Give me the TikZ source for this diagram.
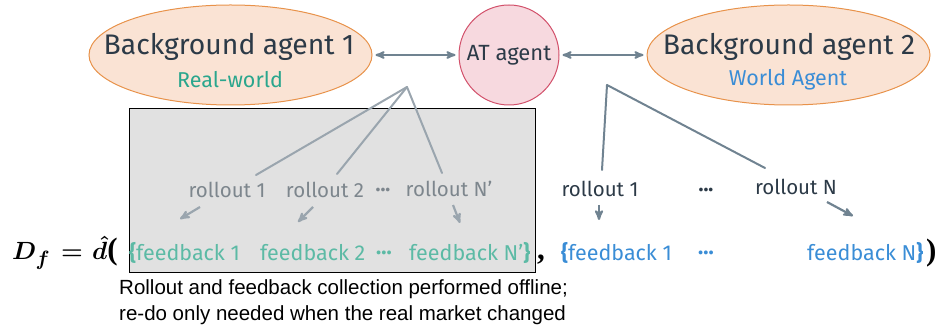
\documentclass[tikz,border=0pt]{standalone}
\usepackage{fontspec}
\setmainfont{Fira Sans}
\newfontfamily\capfont{Liberation Sans}
\newfontfamily\parenfont{Liberation Serif}
\usepackage{amsmath}
\usepackage{tikz}
\usetikzlibrary{arrows}
\usetikzlibrary{calc}
\usetikzlibrary{shapes.geometric}
\definecolor{agentfill}{HTML}{FAE3D4}
\definecolor{agentline}{HTML}{E8924A}
\definecolor{atfill}{HTML}{F7D9DF}
\definecolor{atline}{HTML}{D2506A}
\definecolor{darktext}{HTML}{2C3A47}
\definecolor{realteal}{HTML}{2AA68D}
\definecolor{fbteal}{HTML}{5CBAA5}
\definecolor{worldblue}{HTML}{3A8DD6}
\definecolor{linkgray}{HTML}{708391}
\definecolor{boxgray}{HTML}{9AA5AE}
\definecolor{rolltext}{HTML}{7D868D}
\definecolor{offfill}{HTML}{E1E1E1}

\begin{document}
\boldmath
\begin{tikzpicture}[x=1pt,y=-1pt,>=stealth']
		\tikzstyle{agent}=[ellipse,draw=agentline,fill=agentfill,line width=1pt,
			minimum width=283pt,minimum height=100pt];
		\tikzstyle{atnode}=[circle,draw=atline,fill=atfill,line width=1pt,
			minimum size=100pt,inner sep=0pt,text=darktext,
			font=\fontsize{22}{26}\selectfont];
		\tikzstyle{title}=[inner sep=0pt,text=darktext,font=\fontsize{28.3}{32}\selectfont];
		\tikzstyle{sub}=[inner sep=0pt,font=\fontsize{21.5}{24}\selectfont];
		\tikzstyle{roll}=[inner sep=0pt,font=\fontsize{20.5}{24}\selectfont];
		\tikzstyle{fb}=[inner sep=0pt,anchor=west,font=\fontsize{21.5}{24}\selectfont];
		\tikzstyle{formula}=[inner sep=0pt,anchor=base west,font=\Huge];
		\tikzstyle{paren}=[inner sep=0pt,anchor=base west,font=\parenfont\bfseries\fontsize{31}{32}\selectfont];
		\tikzstyle{link}=[<->,draw=linkgray,line width=2pt];
		\tikzstyle{branch}=[line width=2pt,line cap=round];
		\tikzstyle{hint}=[->,line width=2.2pt];
		\useasboundingbox(0,0)rectangle(941,328);

		% agents
		\node[agent](bg1)at(230.5,55){};
		\node[atnode](at)at(509,55){AT agent};
		\node[agent](bg2)at(788.5,55){};
		\node[title](bg1t)at(229,47){Background agent 1};
		\node[sub,text=realteal](bg1s)at(230,80){Real-world};
		\node[title](bg2t)at(789,47){Background agent 2};
		\node[sub,text=worldblue](bg2s)at(788,80){World Agent};
		\draw[link,shorten <=3pt,shorten >=3pt](bg1)--(at);
		\draw[link,shorten <=3pt,shorten >=3pt](at)--(bg2);

		% offline part
		\node[draw=black,fill=offfill,line width=1pt,minimum width=406pt,
			minimum height=164pt,inner sep=0pt](offline)at(332,191){};
		\coordinate(ap1)at(407,87);
		\node[roll,text=rolltext](rA1)at(227,190){rollout 1};
		\node[roll,text=rolltext](rA2)at(325,190){rollout 2};
		\node[roll,text=rolltext](dA)at(383,190){\bfseries ...};
		\node[roll,text=rolltext](rAN)at(449,189){rollout N'};
		\draw[branch,boxgray](ap1)--($(rA1)+(29,-15)$);
		\draw[branch,boxgray](ap1)--($(rA2)+(12,-16)$);
		\draw[branch,boxgray](ap1)--($(rAN)+(-7,-16)$);
		\draw[hint,boxgray]($(rA1)+(-27,17)$)--($(rA1)+(-47,29)$);
		\draw[hint,boxgray]($(rA2)+(-12,17)$)--($(rA2)+(-27,32)$);
		\draw[hint,boxgray]($(rAN)+(4,16)$)--($(rAN)+(11,34)$);
		\node[fb,text=fbteal](fA1)at(129,253){{\bfseries\{}feedback 1};
		\node[fb,text=fbteal](fA2)at(260,253){feedback 2};
		\node[fb,text=fbteal](dfA)at(376,253){\bfseries ...};
		\node[fb,text=fbteal](fAN)at(409,253){feedback N'{\bfseries\}}};

		% simulated part
		\coordinate(ap2)at(607,85);
		\node[roll,text=darktext](rB1)at(600,189){rollout 1};
		\node[roll,text=darktext](dB)at(706,190){\bfseries ...};
		\node[roll,text=darktext](rBN)at(796,187){rollout N};
		\draw[branch,linkgray](ap2)--($(rB1)+(2,-19)$);
		\draw[branch,linkgray](ap2)--($(rBN)+(-31,-19)$);
		\draw[hint,linkgray]($(rB1)+(-1,16)$)--($(rB1)+(-1,31)$);
		\draw[hint,linkgray]($(rBN)+(31,15)$)--($(rBN)+(57,29)$);
		\node[fb,text=worldblue](fB1)at(561,253){{\bfseries\{}feedback 1};
		\node[fb,text=worldblue](dfB)at(698,253){\bfseries ...};
		\node[fb,text=worldblue](fBN)at(807,253){feedback N{\bfseries\}}};

		% formula
		\node[formula](dsym)at(12,260){$D_f$};
		\node[formula](eqsym)at(61,260){$=$};
		\node[formula](dhat)at(92,260){$\hat{d}${\parenfont\bfseries\fontsize{31}{32}\selectfont(}};
		\node[paren](comma)at(537,260){,};
		\node[paren](closep)at(926,261){)};
		\node[inner sep=0pt,anchor=west,align=left,font=\capfont\fontsize{20.5}{26}\selectfont](note)at(119,302){Rollout and feedback collection performed offline;\\re-do only needed when the real market changed};
	\end{tikzpicture}
\end{document}
